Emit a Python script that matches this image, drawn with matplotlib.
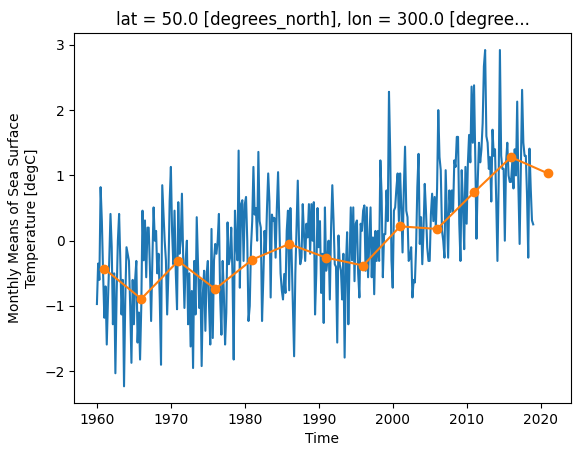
import numpy as np
import matplotlib
matplotlib.use("Agg")
import matplotlib.pyplot as plt
import pandas as pd

# sea surface temperature anomaly (~6 samples per year)
sst = [
    -0.97, -0.35, -0.6, 0.82, 0.3, -0.5,      # 1960
    -1.18, -0.7, -1.59, -0.9, -0.3, 0.41,     # 1961
    -0.1, -1.28, -0.5, -2.03, -0.8, 0.0,      # 1962
    0.41, -0.3, -1.13, -0.6, -2.23, -0.9,     # 1963
    -0.1, -0.2, -0.31, -1.0, -1.87, -0.6,     # 1964
    -1.28, -0.6, -0.31, -1.56, -1.1, -1.82,   # 1965
    -1.0, 0.46, -0.3, 0.31, -0.56, 0.2,       # 1966
    0.2, -0.4, -1.23, -0.3, 0.51, 0.0,        # 1967
    0.15, -0.5, -0.2, -0.9, -1.9, 0.85,       # 1968
    0.41, 0.0, -0.3, -1.13, -0.5, 0.6,        # 1969
    1.13, 0.15, -0.36, 0.46, -0.5, -1.05,     # 1970
    0.59, -0.2, 0.0, 0.72, -0.26, -1.03,      # 1971
    -0.3, 0.0, -1.28, -0.5, -1.62, -0.77,     # 1972
    -1.95, -0.31, -1.13, 0.36, -0.36, -1.03,  # 1973
    -0.6, -1.92, -0.8, -0.46, -1.38, -0.51,   # 1974
    -0.31, -1.0, -1.59, 0.18, -1.49, -0.3,    # 1975
    -0.05, -0.2, 0.0, 0.41, -0.87, -1.44,     # 1976
    -0.31, -0.8, -1.59, -1.1, 0.28, -0.36,    # 1977
    -0.26, 0.2, -0.5, -1.82, 0.46, -0.05,     # 1978
    -0.3, 1.38, -0.72, 0.56, 0.62, -0.31,     # 1979
    0.56, 0.67, 0.0, -1.23, -1.0, -0.1,       # 1980
    0.3, 1.13, 0.4, 0.5, 0.0, 1.36,           # 1981
    0.3, 0.2, -1.23, -0.6, 0.15, -0.2,        # 1982
    0.5, 1.03, 0.6, -0.87, 0.4, 0.3,          # 1983
    0.35, -0.26, 0.5, 1.05, 0.25, -0.5,       # 1984
    -0.76, -0.9, -0.51, -0.8, 0.15, 0.46,     # 1985
    -0.76, 0.5, -0.2, -0.97, -1.77, -0.5,     # 1986
    0.2, 0.92, 0.0, -0.36, -0.26, 0.56,       # 1987
    0.1, -0.31, 0.26, 0.05, 0.56, -0.2,       # 1988
    0.56, 0.0, 0.59, -1.13, -0.5, 0.5,        # 1989
    -0.1, 0.3, -0.8, -0.2, -1.26, 0.51,       # 1990
    -0.46, -0.31, 0.0, -0.9, 0.2, 0.85,       # 1991
    0.31, -0.36, -0.4, -1.56, 0.08, -0.36,    # 1992
    -0.46, -0.9, -0.2, -1.79, -0.41, 0.13,    # 1993
    -1.28, -0.31, 0.51, -0.3, 0.51, -0.62,    # 1994
    0.26, 0.31, -0.5, -0.87, 0.26, 0.15,      # 1995
    0.46, 0.54, -0.46, 0.51, -0.56, 0.0,      # 1996
    0.51, -0.56, 0.05, -0.82, 0.15, -0.31,    # 1997
    0.15, -0.31, 1.23, 0.72, -0.56, 0.1,      # 1998
    0.1, 0.77, 0.3, 2.28, 1.33, -0.3,         # 1999
    -0.72, 0.46, 0.51, 0.8, 1.03, 0.3,        # 2000
    1.03, 0.51, -0.18, 0.77, 1.44, 0.46,      # 2001
    0.36, -0.31, -0.26, -0.1, -0.87, -0.6,    # 2002
    -0.64, -0.1, 0.82, 1.33, -0.05, 0.36,     # 2003
    -0.36, 0.15, 0.87, 0.46, -0.1, -0.31,     # 2004
    -0.31, 0.4, 0.72, 0.3, 0.67, 0.2,         # 2005
    0.8, 2.0, 1.28, 1.08, 0.15, 0.0,          # 2006
    -0.26, 1.08, 0.4, -0.26, 0.77, 0.44,      # 2007
    0.77, 0.44, 1.23, 1.13, 1.59, 1.59,       # 2008
    0.26, -0.31, 1.08, 0.6, -0.13, 1.13,      # 2009
    0.26, 1.18, 1.62, 1.2, 2.36, 1.5,         # 2010
    2.38, 1.3, 0.03, 0.9, 1.5, 1.2,           # 2011
    1.4, 1.8, 2.67, 2.92, 1.6, 1.5,           # 2012
    1.1, 1.28, 0.6, 1.7, 1.3, 1.4,            # 2013
    0.6, -0.31, 0.9, 2.92, 1.3, 1.1,          # 2014
    1.1, 0.0, 1.2, 1.5, 1.0, 0.9,             # 2015
    0.9, 1.2, 0.8, 1.4, 1.0, 2.13,            # 2016
    0.8, -0.05, 1.1, 2.31, 1.5, 1.3,          # 2017
    1.3, 0.7, -0.26, 1.41, 0.8, 0.31,         # 2018
    0.25,                                     # 2019
]
sst_time = pd.date_range("1960-01-01", periods=len(sst), freq="2MS")

# 5-year means
mean_time = pd.to_datetime([
    "1960-12-31", "1965-12-31", "1970-12-31", "1975-12-31", "1980-12-31",
    "1985-12-31", "1990-12-31", "1995-12-31", "2000-12-31", "2005-12-31",
    "2010-12-31", "2015-12-31", "2020-12-31",
])
mean_sst = [-0.43, -0.89, -0.31, -0.74, -0.29, -0.05, -0.26, -0.38,
            0.22, 0.18, 0.74, 1.28, 1.03]

fig, ax = plt.subplots(figsize=(5.81, 4.55), dpi=100)
fig.subplots_adjust(left=0.128, right=0.982, top=0.927, bottom=0.114)

ax.plot(sst_time, sst, color="C0")
ax.plot(mean_time, mean_sst, color="C1", marker="o")

ax.set_title("lat = 50.0 [degrees_north], lon = 300.0 [degree...")
ax.set_xlabel("Time")
ax.set_ylabel("Monthly Means of Sea Surface\nTemperature [degC]")

fig.savefig("out.png", dpi=100)
